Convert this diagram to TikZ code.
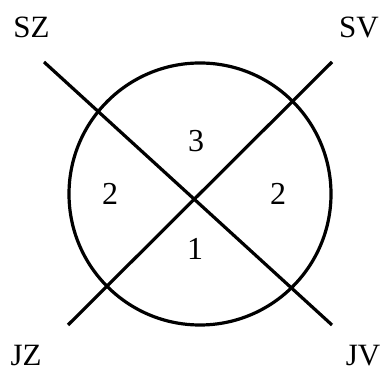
\documentclass[tikz,border=0pt]{standalone}
\usepackage{fontspec}
\setmainfont{Liberation Serif}
\begin{document}
\begin{tikzpicture}[x=1pt,y=1pt,
  lbl/.style={inner sep=0pt,anchor=base,font=\fontsize{31}{31}\selectfont},
  num/.style={inner sep=0pt,anchor=base,font=\fontsize{32}{32}\selectfont},
  thick line/.style={line width=3.2pt}]
\useasboundingbox (0,0) rectangle (383,372);
\coordinate (c) at (200,178);
\coordinate (sz) at (44,310);
\coordinate (jv) at (332,47);
\coordinate (sv) at (332,310);
\coordinate (jz) at (68,47);
\draw[thick line] (c) circle (131);
\draw[thick line] (sz) -- (jv);
\draw[thick line] (sv) -- (jz);
\node[lbl] (tsz) at (31.5,334) {SZ};
\node[lbl] (tsv) at (359,334) {SV};
\node[lbl] (tjz) at (26,6) {JZ};
\node[lbl] (tjv) at (363,6) {JV};
\node[num] (n3) at (196,220) {3};
\node[num] (n2l) at (110,167) {2};
\node[num] (n2r) at (278,167) {2};
\node[num] (n1) at (195,112) {1};
\end{tikzpicture}
\end{document}
